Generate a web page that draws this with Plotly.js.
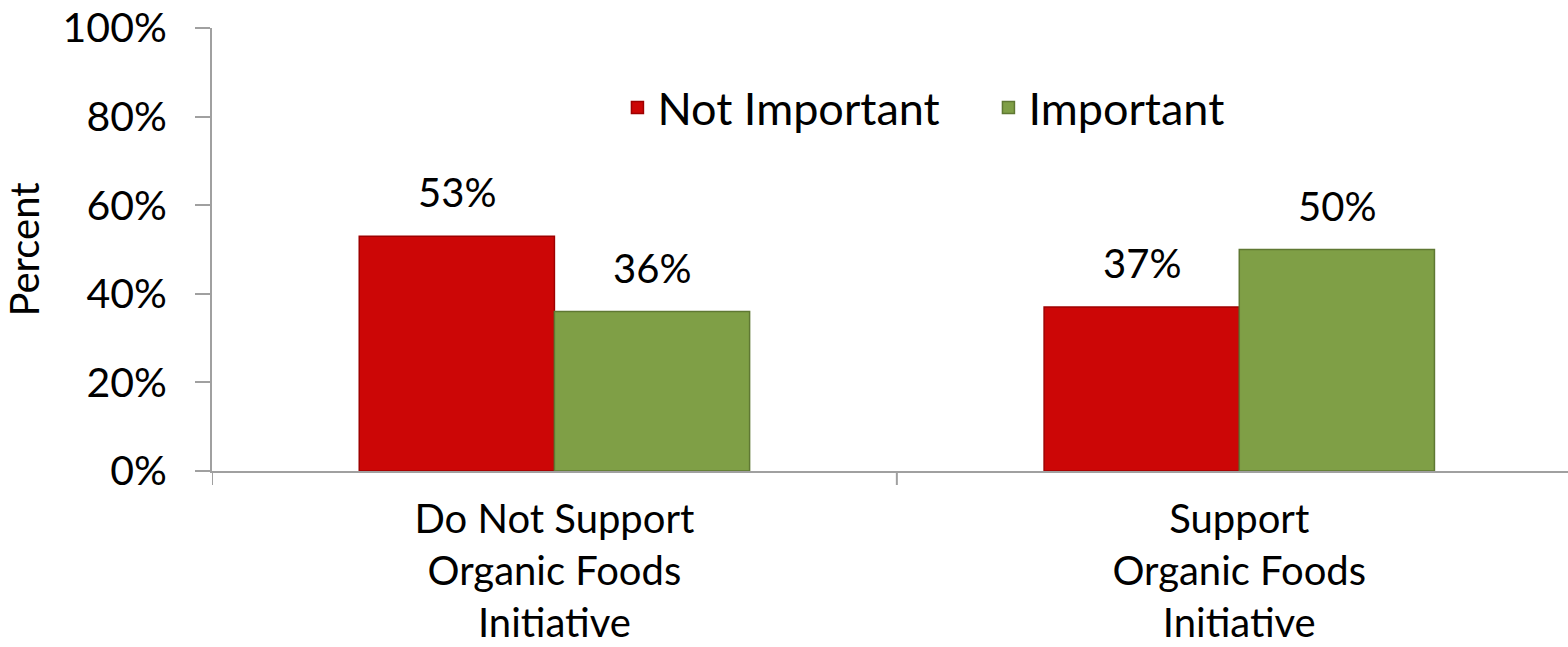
<!DOCTYPE html>
<html>
<head>
<meta charset="utf-8">
<script src="https://cdn.plot.ly/plotly-3.0.1.min.js"></script>
<style>html,body{margin:0;padding:0;background:#fff;}#chart{width:1568px;height:647px;}</style>
</head>
<body>
<div id="chart"></div>
<script>
const categories = ["Do Not Support<br>Organic Foods<br>Initiative", "Support<br>Organic Foods<br>Initiative"];
const seriesNames = ["Not Important", "Important"];
const notImportant = [0.53, 0.37];
const important = [0.36, 0.50];
const yTickVals = [0, 0.2, 0.4, 0.6, 0.8, 1.0];
const yTickText = ["0%", "20%", "40%", "60%", "80%", "100%"];

const FONT = "Lato, 'Open Sans', sans-serif";
const barGap = 0.43;
const colors = ["#CC0606", "#7F9F46"];
const lineColors = ["#9E0000", "#5F7833"];
const seriesValues = [notImportant, important];

const traces = seriesValues.map((vals, i) => ({
  type: "bar",
  name: seriesNames[i],
  x: [0, 1],
  y: vals,
  marker: {color: colors[i], line: {color: lineColors[i], width: 1.5}},
  hoverinfo: "skip"
}));

// data labels placed above each bar, offset by its slot within the group
const nSeries = seriesValues.length;
const barW = (1 - barGap) / nSeries;
const annotations = [];
seriesValues.forEach((vals, i) => {
  const off = -(1 - barGap) / 2 + barW * (i + 0.5);
  vals.forEach((v, j) => {
    annotations.push({
      x: j + off, y: v, xref: "x", yref: "y",
      text: Math.round(v * 100) + "%",
      showarrow: false, yanchor: "bottom", yshift: 18,
      font: {family: FONT, size: 40, color: "#000"}
    });
  });
});

const layout = {
  width: 1568, height: 647,
  margin: {l: 212, r: 0, t: 28, b: 176},
  paper_bgcolor: "#fff", plot_bgcolor: "#fff",
  barmode: "group", bargap: barGap, bargroupgap: 0,
  font: {family: FONT, size: 40, color: "#000"},
  showlegend: true,
  legend: {orientation: "h", x: 0.299, xanchor: "left", y: 0.82, yanchor: "middle",
           font: {family: FONT, size: 45, color: "#000"}, itemwidth: 30,
           entrywidth: 326, entrywidthmode: "pixels", traceorder: "normal",
           bgcolor: "rgba(0,0,0,0)"},
  xaxis: {
    type: "linear",
    range: [-0.5, 1.48],
    tickmode: "array", tickvals: [0, 1], ticktext: categories,
    showline: true, linecolor: "#A0A0A0", linewidth: 2,
    ticks: "", showgrid: false, zeroline: false,
    tickfont: {family: FONT, size: 40, color: "#000"},
    ticklabelstandoff: 12,
    fixedrange: true
  },
  yaxis: {
    range: [0, 1],
    tickmode: "array", tickvals: yTickVals, ticktext: yTickText,
    showline: true, linecolor: "#A0A0A0", linewidth: 2,
    ticks: "outside", ticklen: 15, tickcolor: "#A0A0A0", tickwidth: 2,
    ticklabelstandoff: 20,
    showgrid: false, zeroline: false,
    tickfont: {family: FONT, size: 41, color: "#000"},
    title: {text: "Percent", font: {family: FONT, size: 40, color: "#000"}, standoff: 13},
    fixedrange: true
  },
  annotations: annotations,
  shapes: [-0.5, 0.5].map(b => ({
    type: "line", xref: "x", yref: "paper", x0: b, x1: b, ysizemode: "pixel",
    yanchor: 0, y0: 0, y1: -14, line: {color: "#A0A0A0", width: 2}
  }))
};

Plotly.newPlot("chart", traces, layout, {displayModeBar: false, staticPlot: true});
</script>
</body>
</html>
